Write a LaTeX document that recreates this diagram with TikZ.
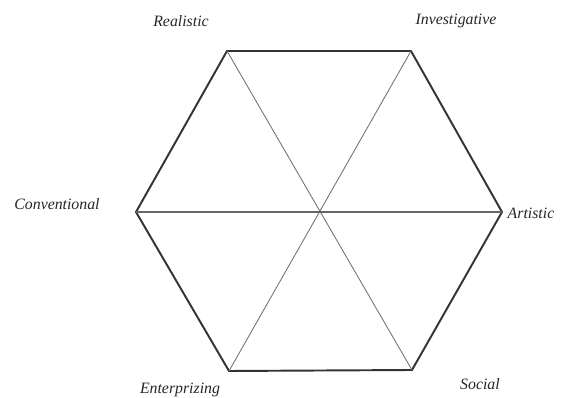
\documentclass[tikz,border=0pt]{standalone}
\usepackage{fontspec}
\setmainfont{Liberation Serif}
\usepackage{tikz}
\usetikzlibrary{positioning,calc}

\begin{document}
\begin{tikzpicture}[x=0.02cm, y=-0.02cm, lab/.style={font=\fontsize{9}{10}\selectfont\itshape, text=black!85}]
\useasboundingbox (0,0) rectangle (565,398);
\coordinate (r) at (227,51);
\coordinate (i) at (411,51);
\coordinate (a) at (502,212);
\coordinate (s) at (412,370);
\coordinate (e) at (229,371);
\coordinate (c) at (136,212);
\coordinate (m) at (319,212);
\node[lab] (rl) at (181,21) {Realistic};
\node[lab] (il) at (456,21) {Investigative};
\node[lab] (al) at (531,213) {Artistic};
\node[lab] (sl) at (480,384) {Social};
\node[lab] (el) at (180,390) {Enterprizing};
\node[lab] (cl) at (57,204) {Conventional};
\draw[line width=1.1pt, black!80] (r) -- (i) -- (a) -- (s) -- (e) -- (c) -- cycle;
\draw[line width=0.5pt, black!55] (r) -- (s);
\draw[line width=0.5pt, black!55] (i) -- (e);
\draw[line width=0.6pt, black!60] (c) -- (a);
\end{tikzpicture}
\end{document}
